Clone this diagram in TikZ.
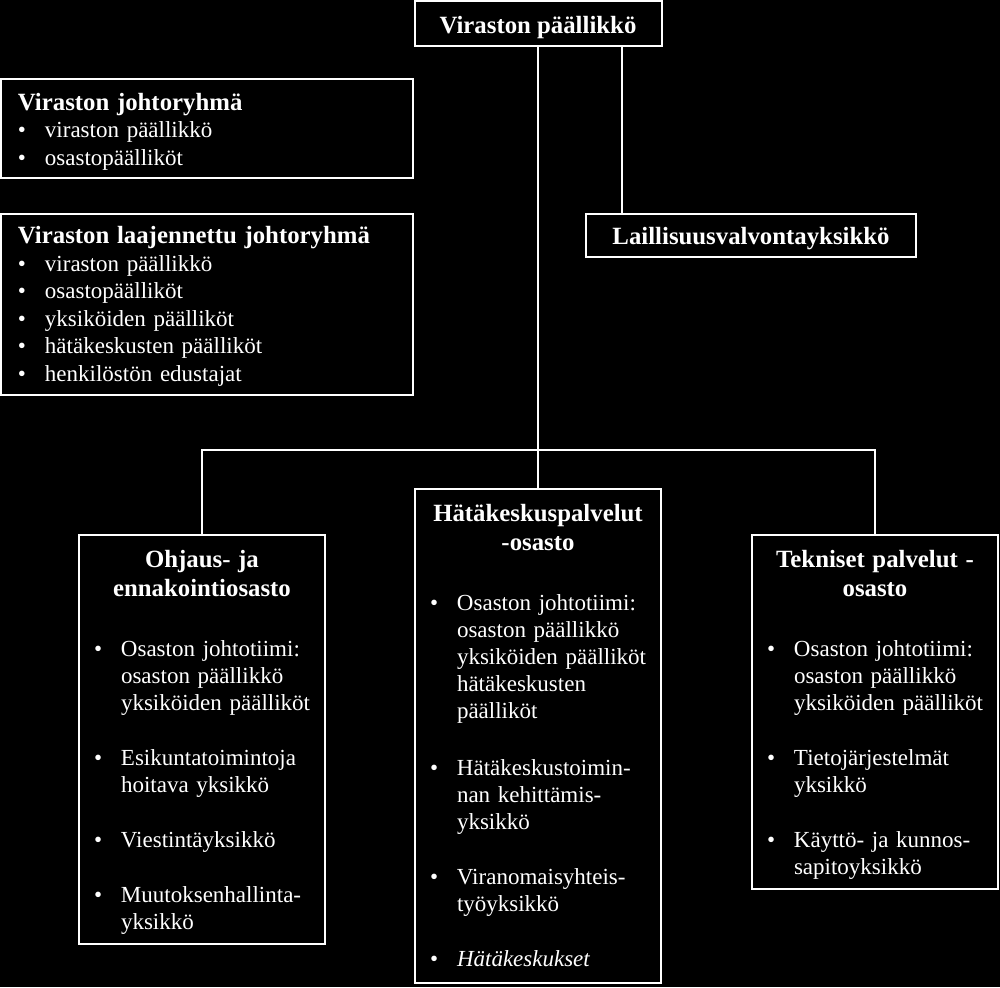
\documentclass[tikz,border=0pt]{standalone}
\usepackage{fontspec}
\setmainfont{Liberation Serif}
\usepackage{tikz}
\usetikzlibrary{positioning, calc}

\newcommand{\bodyfont}{\fontsize{23}{27}\selectfont}
\newcommand{\groupfont}{\fontsize{23}{27.5}\selectfont}
\newcommand{\headfont}{\fontsize{24.8}{29}\selectfont\bfseries}
\newcommand{\unithead}[1]{{\centering\headfont #1\par}}
\newcommand{\grouphead}[1]{{\bfseries\fontsize{24.8}{27.5}\selectfont #1\par}}
\newcommand{\unitline}[1]{\noindent\hangindent=27pt\hangafter=1
  \makebox[27pt][l]{\textbullet}#1\par}
\newcommand{\padtop}[1]{\rule{0pt}{#1}}
\newcommand{\gap}{\vspace{28pt}}

\begin{document}
\begin{tikzpicture}[
  x=1pt, y=-1pt,
  link/.style={draw=white, line width=2pt},
  plainbox/.style={draw=white, line width=2pt, text=white, inner sep=0pt,
                   font=\headfont, text height=23pt, text depth=5.5pt},
  groupbox/.style={draw=white, line width=2pt, text=white, inner sep=0pt,
                   text width=412pt, minimum height=#1, font=\groupfont,
                   execute at begin node={\raggedright\leftskip=17pt}},
  unitbox/.style={draw=white, line width=2pt, text=white, inner sep=0pt,
                  text width=246pt, minimum height=#1, font=\bodyfont,
                  execute at begin node={\raggedright\leftskip=15pt}},
]
  \fill[black] (0,0) rectangle (1000,987);
  \useasboundingbox (0,0) rectangle (1000,987);
  % Chief
  \node[plainbox, minimum width=247pt, minimum height=45pt, text height=25pt]
    (chief) at (538,23.5) {Viraston päällikkö};
  % Management groups
  \node[groupbox=99pt] (johto) at (207,128.5) {%
    \grouphead{\padtop{23.5pt}Viraston johtoryhmä}
    \unitline{viraston päällikkö}
    \unitline{osastopäälliköt}};
  \node[groupbox=181pt, below=34pt of johto] (laaj) {%
    \grouphead{\padtop{20.5pt}Viraston laajennettu johtoryhmä}
    \unitline{viraston päällikkö}
    \unitline{osastopäälliköt}
    \unitline{yksiköiden päälliköt}
    \unitline{hätäkeskusten päälliköt}
    \unitline{henkilöstön edustajat}};
  % Legal supervision
  \node[plainbox, minimum width=330pt, minimum height=43pt] (laill) at (751,235.5)
    {Laillisuusvalvontayksikkö};
  % Departments
  \node[unitbox=409pt] (ohjaus) at (202,739.5) {%
    \unithead{\padtop{23pt}Ohjaus- ja\\ ennakointiosasto}\vspace{33pt}
    \unitline{Osaston johtotiimi:\newline osaston päällikkö\newline yksiköiden päälliköt}\gap
    \unitline{Esikuntatoimintoja\newline hoitava yksikkö}\gap
    \unitline{Viestintäyksikkö}\gap
    \unitline{Muutoksenhallinta-\newline yksikkö}};
  \node[unitbox=494pt] (hatake) at (538,736) {%
    \unithead{Hätäkeskuspalvelut\\ -osasto}\vspace{33pt}
    \unitline{Osaston johtotiimi:\newline osaston päällikkö\newline yksiköiden päälliköt\newline hätäkeskusten\newline päälliköt}\vspace{30pt}
    \unitline{Hätäkeskustoimin-\newline nan kehittämis-\newline yksikkö}\gap
    \unitline{Viranomaisyhteis-\newline työyksikkö}\gap
    \unitline{\textit{Hätäkeskukset}}};
  \node[unitbox=354pt] (tekn) at (875,712) {%
    \unithead{\padtop{23pt}Tekniset palvelut -\\ osasto}\vspace{33pt}
    \unitline{Osaston johtotiimi:\newline osaston päällikkö\newline yksiköiden päälliköt}\gap
    \unitline{Tietojärjestelmät\newline yksikkö}\gap
    \unitline{Käyttö- ja kunnos-\newline sapitoyksikkö}};
  % Connectors
  \coordinate (bar) at (538,450);
  \coordinate (tap) at ($(chief.south)+(83.5,0)$);
  \draw[link] (chief.south) -- (chief.south |- hatake.north);
  \draw[link] (tap) -- (tap |- laill.north);
  \draw[link] (ohjaus.north) |- (bar) -| (tekn.north);
\end{tikzpicture}
\end{document}
